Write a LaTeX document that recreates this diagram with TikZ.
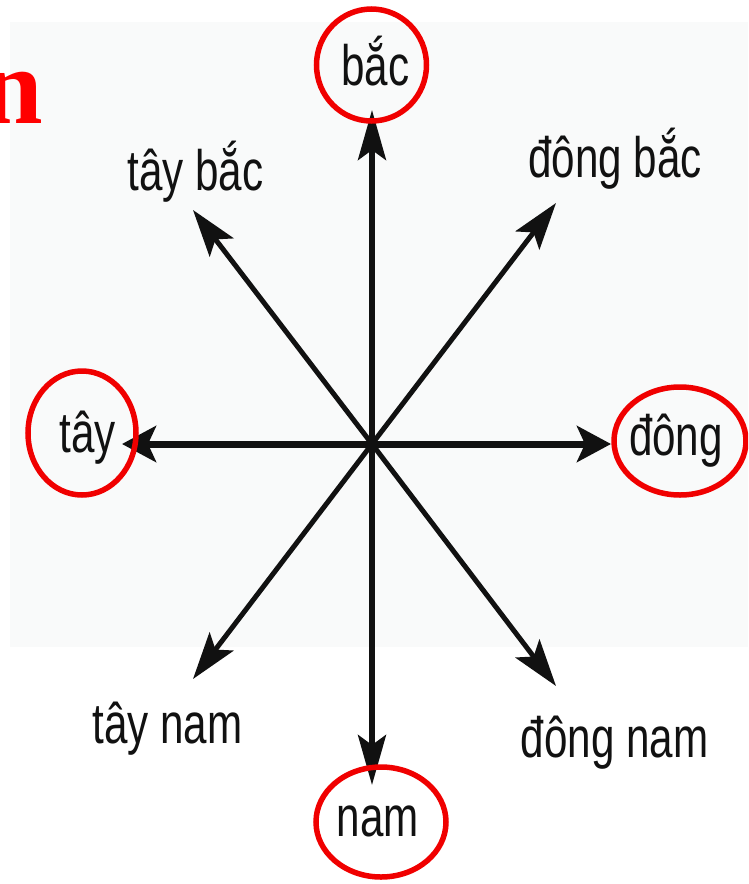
\documentclass[tikz,border=0pt]{standalone}
\usepackage{fontspec}
\setmainfont{Liberation Sans}[FakeStretch=0.74]
\newfontfamily\headfont{Liberation Serif}
\usetikzlibrary{arrows.meta,shapes.geometric}
\definecolor{ink}{RGB}{17,17,17}
\definecolor{ring}{RGB}{240,0,0}
\definecolor{bgtint}{RGB}{249,250,250}
\tikzset{
  lbl/.style={font=\fontsize{57}{60}\selectfont, text=ink, anchor=base, inner sep=0pt},
  ringstyle/.style={draw=ring, line width=5.5pt, ellipse, inner sep=0pt},
  arrv/.style={draw=ink, line width=5.5pt, -{Stealth[length=50pt, width=28pt, inset=10pt]}},
  arrd/.style={draw=ink, line width=5pt, -{Stealth[length=47pt, width=30pt, inset=10pt]}},
  arrh/.style={draw=ink, line width=7pt, -{Stealth[length=34pt, width=36pt, inset=8pt]}}
}
\begin{document}
\begin{tikzpicture}[x=1pt, y=-1pt]
\useasboundingbox (0,0) rectangle (748,884);
\clip (0,0) rectangle (748,884);
\fill[bgtint] (10,22) rectangle (748,647);
% partial heading letter
\node[text=red, anchor=base east, inner sep=0pt, font=\headfont\bfseries\fontsize{109}{110}\selectfont] (head) at (43,123) {n};
% centre and tips
\coordinate (c) at (372,444);
\coordinate (tN) at (372,110);
\coordinate (tS) at (372,785);
\coordinate (tE) at (611,444);
\coordinate (tW) at (122,444);
\coordinate (tNE) at (556,203);
\coordinate (tNW) at (193,210);
\coordinate (tSE) at (556,686);
\coordinate (tSW) at (193,679);
% arrows
\draw[arrd] (c) -- (tNE);
\draw[arrd] (c) -- (tNW);
\draw[arrd] (c) -- (tSE);
\draw[arrd] (c) -- (tSW);
\draw[arrv] (c) -- (tN);
\draw[arrv] (c) -- (tS);
\draw[arrh] (c) -- (tE);
\draw[arrh] (c) -- (tW);
% labels
\node[lbl] (bac) at (375.5,85) {bắc};
\node[lbl] (taybac) at (195.5,190) {tây bắc};
\node[lbl] (dongbac) at (615,177) {đông bắc};
\node[lbl] (tay) at (87.5,452) {tây};
\node[lbl] (dong) at (676,455) {đông};
\node[lbl] (taynam) at (167.5,743) {tây nam};
\node[lbl] (dongnam) at (614.5,757) {đông nam};
\node[lbl] (nam) at (378,836) {nam};
% red rings
\node[ringstyle, minimum width=110pt, minimum height=112pt] (rbac) at (371.5,65) {};
\node[ringstyle, minimum width=108pt, minimum height=124pt] (rtay) at (82,433) {};
\node[ringstyle, minimum width=132pt, minimum height=108pt] (rdong) at (680,441) {};
\node[ringstyle, minimum width=130pt, minimum height=110pt] (rnam) at (381,822) {};
\end{tikzpicture}
\end{document}
